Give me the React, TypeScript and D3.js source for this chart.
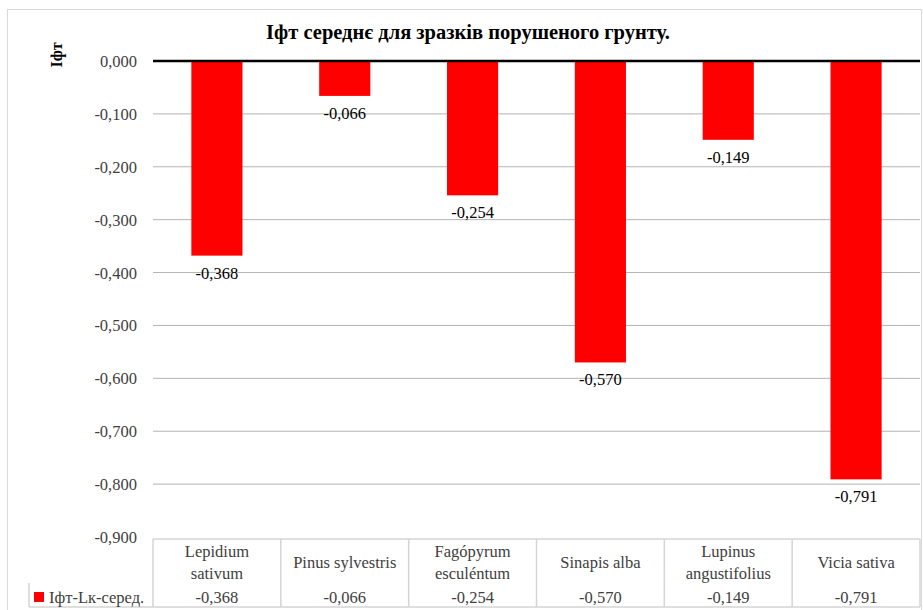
import * as d3 from 'd3'

const categories = [
  ['Lepidium', 'sativum'],
  ['Pinus sylvestris'],
  ['Fagópyrum', 'esculéntum'],
  ['Sinapis alba'],
  ['Lupinus', 'angustifolius'],
  ['Vicia sativa'],
]
const values = [-0.368, -0.066, -0.254, -0.57, -0.149, -0.791]
const yTicks = [0, -0.1, -0.2, -0.3, -0.4, -0.5, -0.6, -0.7, -0.8, -0.9]
const title = 'Іфт середнє для зразків порушеного грунту.'
const yTitle = 'Іфт'
const seriesName = 'Іфт-Lк-серед.'

const W = 923
const H = 610
const serif = 'Liberation Serif, DejaVu Serif, Tinos, serif'
const fmt = (v: number) => d3.format('.3f')(v).replace('.', ',').replace('−', '-')

export default function App() {
  const plot = { left: 153, right: 920, top: 61, bottom: 537 }
  const names = categories.map((c) => c.join(' '))
  const x = d3.scaleBand().domain(names).range([plot.left, plot.right]).paddingInner(0.6).paddingOuter(0.3)
  const cols = d3.scaleBand().domain(names).range([plot.left, plot.right])
  const y = d3.scaleLinear().domain([-0.9, 0]).range([plot.bottom, plot.top])
  const tableTop = plot.bottom + 2
  const tableBottom = 607
  const gridColor = '#b3b3b3'
  const tableColor = '#d4d4d4'
  const textColor = '#404040'
  const txt = { fontFamily: serif, fontSize: 16.5 }

  return (
    <svg width={W} height={H} style={{ position: 'absolute', left: 0, top: 0, fontFamily: serif }}>
      <rect x={7.5} y={9.5} width={914} height={620} fill="#fff" stroke="#d9d9d9" />
      <text x={468} y={39} textAnchor="middle" style={{ fontFamily: serif, fontSize: 20.5, fontWeight: 'bold' }} fill="#000">
        {title}
      </text>
      <text
        transform={`translate(62,55) rotate(-90)`}
        textAnchor="middle"
        style={{ fontFamily: serif, fontSize: 16, fontWeight: 'bold' }}
        fill="#000"
      >
        {yTitle}
      </text>
      {yTicks.map((t) => (
        <g key={t}>
          {t !== 0 && t !== -0.9 && (
            <line x1={plot.left} x2={plot.right} y1={y(t)} y2={y(t)} stroke={gridColor} strokeWidth={1} />
          )}
          <text x={137} y={y(t) + 6} textAnchor="end" style={txt} fill={textColor}>
            {fmt(t)}
          </text>
        </g>
      ))}
      {values.map((v, i) => (
        <g key={names[i]}>
          <rect x={x(names[i])} y={y(0)} width={x.bandwidth()} height={y(v) - y(0)} fill="#ff0000" />
          <text
            x={(x(names[i]) as number) + x.bandwidth() / 2}
            y={y(v) + 23}
            textAnchor="middle"
            style={txt}
            fill="#000"
          >
            {fmt(v)}
          </text>
        </g>
      ))}
      <line x1={plot.left} x2={plot.right} y1={y(0)} y2={y(0)} stroke="#000" strokeWidth={2.5} />

      {/* data table */}
      <line x1={plot.left} x2={plot.right} y1={tableTop} y2={tableTop} stroke={tableColor} strokeWidth={1.5} />
      <line x1={29} x2={plot.right} y1={tableBottom} y2={tableBottom} stroke={tableColor} strokeWidth={1.5} />
      <line x1={29} x2={29} y1={583} y2={tableBottom} stroke={tableColor} strokeWidth={1.5} />
      {names.map((n) => (
        <line key={n} x1={cols(n)} x2={cols(n)} y1={tableTop} y2={tableBottom} stroke={tableColor} strokeWidth={1.5} />
      ))}
      <line x1={plot.right} x2={plot.right} y1={tableTop} y2={tableBottom} stroke={tableColor} strokeWidth={1.5} />
      {categories.map((lines, i) => {
        const cx = (cols(names[i]) as number) + cols.bandwidth() / 2
        return (
          <g key={names[i]} fill={textColor} textAnchor="middle">
            {lines.map((l, j) => (
              <text key={l} x={cx} y={lines.length === 1 ? 568 : 557 + j * 22} style={txt}>
                {l}
              </text>
            ))}
            <text x={cx} y={603} style={txt}>
              {fmt(values[i])}
            </text>
          </g>
        )
      })}
      <rect x={34} y={592} width={10} height={10} fill="#ff0000" />
      <text x={49} y={603} style={txt} fill={textColor}>
        {seriesName}
      </text>
    </svg>
  )
}
